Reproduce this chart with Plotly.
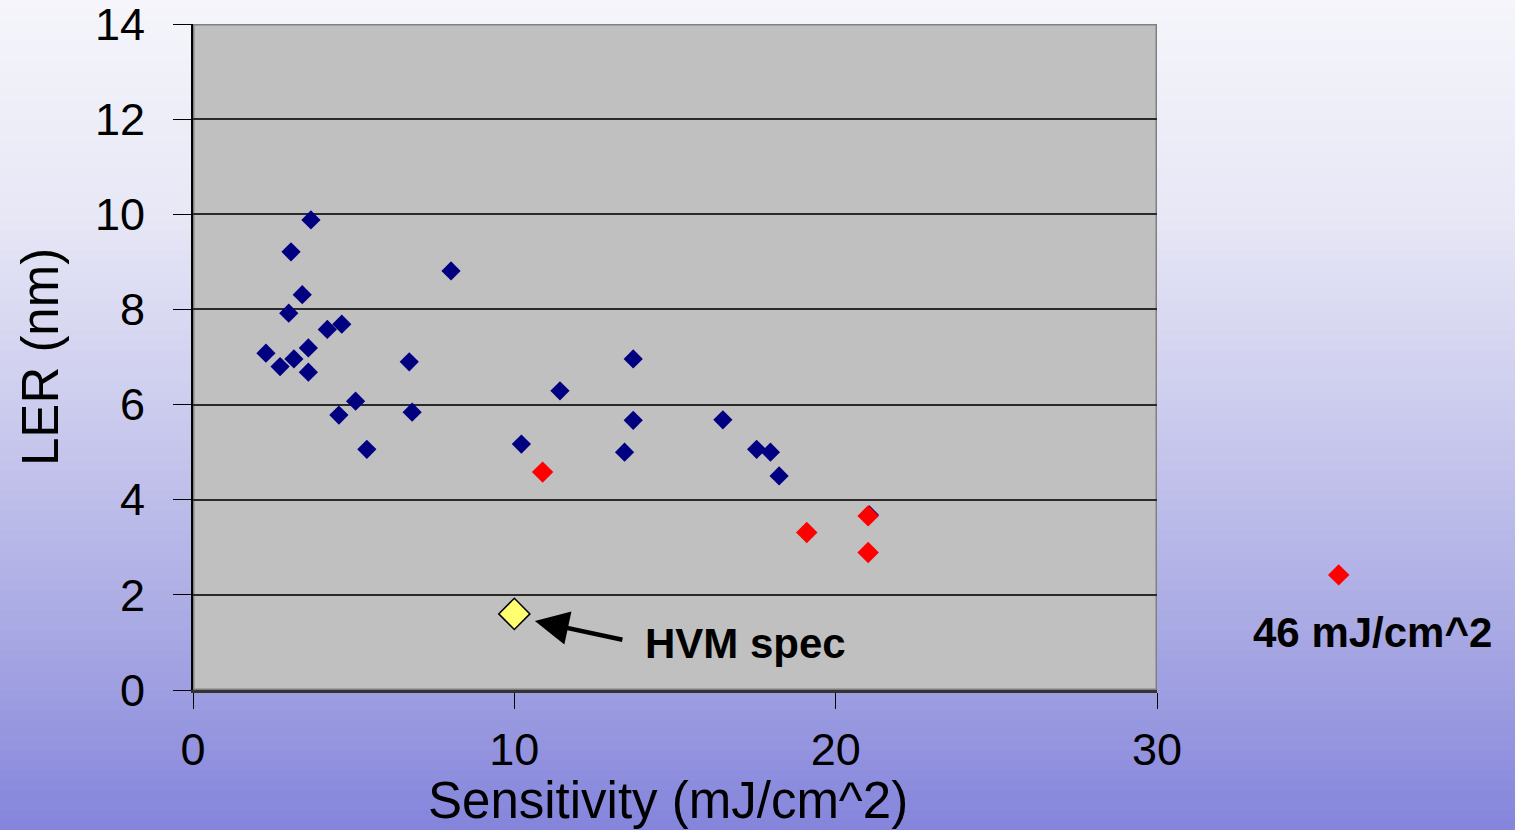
import plotly.graph_objects as go

# Resist data: sensitivity (mJ/cm^2) vs line edge roughness (nm)
blue_sens = [2.27, 2.71, 2.98, 3.05, 3.14, 3.40, 3.59, 3.59, 3.67, 4.18, 4.63, 4.54,
             5.06, 5.41, 6.73, 6.82, 8.03, 10.22, 11.42, 13.43, 13.70, 13.70, 16.49,
             17.54, 17.97, 18.24, 21.05]
blue_ler = [7.08, 6.80, 7.92, 9.21, 6.96, 8.31, 6.68, 7.19, 9.88, 7.58, 7.69, 5.78,
            6.07, 5.06, 6.90, 5.84, 8.81, 5.17, 6.29, 5.00, 6.96, 5.67, 5.68,
            5.06, 5.00, 4.50, 3.68]

red_sens = [10.88, 19.10, 21.01, 21.01]
red_ler = [4.58, 3.31, 3.66, 2.89]

# off-scale sample
far_sens = [46]
far_ler = [2.42]

spec_sens = [10.0]
spec_ler = [1.60]

x_ticks = [0, 10, 20, 30]
y_ticks = [0, 2, 4, 6, 8, 10, 12, 14]

W, H = 1515, 830
L, R, T, B = 193, 0, 24, 140
PLOT_RIGHT = 1157           # right edge of the main axes, px
pw_all = W - L - R
ph = H - T - B
main_w = PLOT_RIGHT - L

def px_x(p):
    return (p - L) / pw_all

def px_y(p):
    return (H - B - p) / ph

FONT = "Liberation Sans, Arial, sans-serif"

# side panel (hidden axes) holding the off-scale point
side_dom = [0.75, 1.0]
side_left = L + side_dom[0] * pw_all
side_w = (side_dom[1] - side_dom[0]) * pw_all
far_px = 1338.7
side_lo = 40.0
frac = (far_px - side_left) / side_w
side_hi = side_lo + (far_sens[0] - side_lo) / frac

fig = go.Figure()

fig.add_trace(go.Scatter(
    x=blue_sens, y=blue_ler, mode="markers",
    marker=dict(symbol="diamond", size=14.8, color="#000080"),
    cliponaxis=False, showlegend=False))
fig.add_trace(go.Scatter(
    x=red_sens, y=red_ler, mode="markers",
    marker=dict(symbol="diamond", size=16.5, color="#FF0000"),
    cliponaxis=False, showlegend=False))
fig.add_trace(go.Scatter(
    x=spec_sens, y=spec_ler, mode="markers",
    marker=dict(symbol="diamond", size=24, color="#FFFF70",
                line=dict(color="black", width=1.5)),
    cliponaxis=False, showlegend=False))
fig.add_trace(go.Scatter(
    x=far_sens, y=far_ler, mode="markers", xaxis="x2", yaxis="y2",
    marker=dict(symbol="diamond", size=16.5, color="#FF0000"),
    cliponaxis=False, showlegend=False))

# background gradient strips
stops = [(0.0, (245, 245, 251)), (0.25, (232, 232, 246)), (0.5, (203, 203, 238)),
         (0.75, (170, 170, 228)), (1.0, (132, 132, 220))]

def grad(t):
    for (t0, c0), (t1, c1) in zip(stops[:-1], stops[1:]):
        if t0 <= t <= t1:
            f = (t - t0) / (t1 - t0)
            return tuple(round(a + (b - a) * f) for a, b in zip(c0, c1))
    return stops[-1][1]

shapes = []
n = 83
for i in range(n):
    y0p = H * i / n
    y1p = H * (i + 1) / n + 1
    c = grad((i + 0.5) / n)
    shapes.append(dict(type="rect", xref="paper", yref="paper", layer="below",
                       x0=px_x(-4), x1=px_x(W + 4), y0=px_y(y1p), y1=px_y(y0p),
                       line=dict(width=0), fillcolor="rgb(%d,%d,%d)" % c))
# plot area fill and frame
shapes.append(dict(type="rect", xref="x", yref="y", layer="below",
                   x0=0, x1=30, y0=0, y1=14,
                   line=dict(color="#808080", width=3), fillcolor="#C0C0C0"))

annotations = [
    dict(text="LER (nm)", textangle=-90, xref="paper", yref="paper",
         x=px_x(40), y=0.5, xanchor="center", yanchor="middle", showarrow=False,
         font=dict(family=FONT, size=51, color="black")),
    dict(text="Sensitivity (mJ/cm^2)", xref="paper", yref="paper",
         x=px_x(668), y=px_y(800), xanchor="center", yanchor="middle",
         showarrow=False,
         font=dict(family=FONT, size=51, color="black")),
    dict(text="<b>HVM spec</b>", xref="x", yref="y",
         x=(745 - L) / (main_w / 30), y=(H - B - 643) / (ph / 14),
         xanchor="center", yanchor="middle", showarrow=False,
         font=dict(family=FONT, size=42, color="black")),
    dict(text="", xref="x", yref="y", axref="x", ayref="y",
         x=10.64, y=1.45, ax=13.41, ay=1.05, showarrow=True,
         arrowhead=2, arrowsize=1.5, arrowwidth=4.5, arrowcolor="black"),
    dict(text="<b>46 mJ/cm^2</b>", xref="paper", yref="paper",
         x=px_x(1372), y=px_y(632), xanchor="center", yanchor="middle",
         showarrow=False,
         font=dict(family=FONT, size=42, color="black")),
]

fig.update_layout(
    width=W, height=H,
    margin=dict(l=L, r=R, t=T, b=B, pad=0, autoexpand=False),
    paper_bgcolor="rgb(245,245,251)",
    plot_bgcolor="rgba(0,0,0,0)",
    font=dict(family=FONT, color="black"),
    shapes=shapes,
    annotations=annotations,
    xaxis=dict(domain=[0, main_w / pw_all], range=[0, 30], tickvals=x_ticks,
               showgrid=False, zeroline=False,
               showline=True, linecolor="#333333", linewidth=2.5,
               ticks="outside", ticklen=16, tickwidth=1.2, tickcolor="black",
               tickfont=dict(family=FONT, size=45), ticklabelstandoff=2,
               ticklabeloverflow="allow", fixedrange=True),
    yaxis=dict(range=[0, 14], tickvals=y_ticks, showgrid=True,
               gridcolor="#2a2a2a", gridwidth=1.5, zeroline=False,
               showline=True, linecolor="black", linewidth=2,
               ticks="outside", ticklen=18, tickwidth=1.2, tickcolor="black",
               tickfont=dict(family=FONT, size=45), ticklabelstandoff=19,
               ticklabeloverflow="allow", fixedrange=True),
    xaxis2=dict(domain=side_dom, range=[side_lo, side_hi], anchor="y2",
                visible=False, fixedrange=True),
    yaxis2=dict(range=[0, 14], anchor="x2", visible=False, fixedrange=True),
)

fig.write_html("out.html")
